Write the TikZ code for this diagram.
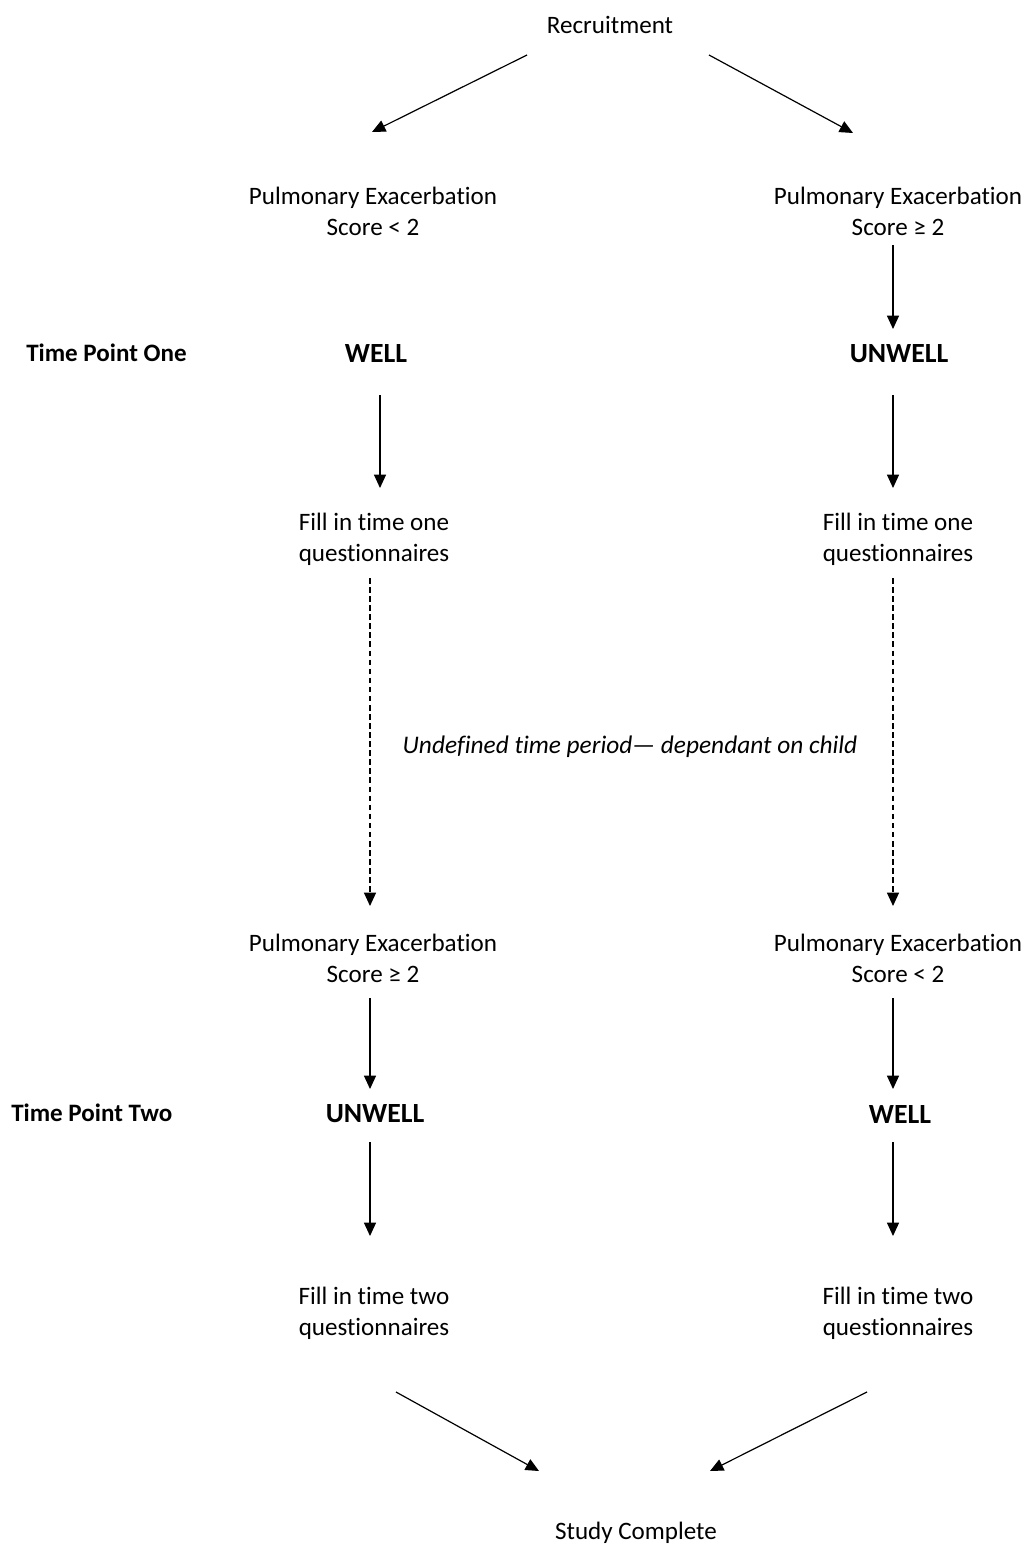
\documentclass[tikz,border=0pt]{standalone}
\usepackage{fontspec}
\setmainfont[Ligatures=NoCommon]{Carlito}
\usetikzlibrary{arrows.meta}
\begin{document}
\begin{tikzpicture}[x=0.75pt,y=-0.75pt,
  every node/.style={inner sep=0pt,align=center,font=\fontsize{18.8}{23.3}\selectfont},
  lbl/.style={font=\fontsize{18.8}{23.3}\selectfont\bfseries},
  state/.style={font=\fontsize{20.8}{25}\selectfont\bfseries},
  conn/.style={line width=0.9pt,-{Triangle[length=10pt,width=9pt]}},
  wait/.style={conn,dash pattern=on 4.2pt off 2.6pt}]
\useasboundingbox (0,0) rectangle (1027,1548);

% stages
\node (rec) at (610,25) {Recruitment};
\node (peA) at (373,211) {Pulmonary Exacerbation\\Score < 2};
\node (peB) at (898,211) {Pulmonary Exacerbation\\Score ≥ 2};
\node[lbl,anchor=west] (tp1) at (26,353) {Time Point One};
\node[state] (wellA) at (376,354) {WELL};
\node[state] (unwellB) at (899,354) {UNWELL};
\node (q1A) at (374,539) {Fill in time one\\questionnaires};
\node (q1B) at (898,539) {Fill in time one\\questionnaires};
\node[font=\fontsize{19}{23.3}\selectfont\itshape] (gap) at (630,747) {Undefined time period— dependant on child};
\node (pe2A) at (373,958) {Pulmonary Exacerbation\\Score ≥ 2};
\node (pe2B) at (898,958) {Pulmonary Exacerbation\\Score < 2};
\node[lbl,anchor=west] (tp2) at (11,1113) {Time Point Two};
\node[state] (unwellA) at (375,1114) {UNWELL};
\node[state] (wellB) at (900,1114) {WELL};
\node (q2A) at (374,1313) {Fill in time two\\questionnaires};
\node (q2B) at (898,1313) {Fill in time two\\questionnaires};
\node (done) at (636,1533) {Study Complete};

% connector end points
\coordinate (recL) at (527,55);   \coordinate (peAt) at (372,132);
\coordinate (recR) at (709,55);   \coordinate (peBt) at (853,133);
\coordinate (peBb) at (893,245);  \coordinate (unwellBt) at (893,329);
\coordinate (wellAb) at (380,395); \coordinate (q1At) at (380,488);
\coordinate (unwellBb) at (893,395); \coordinate (q1Bt) at (893,488);
\coordinate (q1Ab) at (370,578);  \coordinate (pe2At) at (370,906);
\coordinate (q1Bb) at (893,578);  \coordinate (pe2Bt) at (893,906);
\coordinate (pe2Ab) at (370,998); \coordinate (unwellAt) at (370,1089);
\coordinate (pe2Bb) at (893,998); \coordinate (wellBt) at (893,1089);
\coordinate (unwellAb) at (370,1142); \coordinate (q2At) at (370,1236);
\coordinate (wellBb) at (893,1142); \coordinate (q2Bt) at (893,1236);
\coordinate (q2Ab) at (396,1392); \coordinate (doneL) at (539,1471);
\coordinate (q2Bb) at (867,1392); \coordinate (doneR) at (710,1471);

% connectors
\draw[conn] (recL) -- (peAt);
\draw[conn] (recR) -- (peBt);
\draw[conn] (peBb) -- (unwellBt);
\draw[conn] (wellAb) -- (q1At);
\draw[conn] (unwellBb) -- (q1Bt);
\draw[wait] (q1Ab) -- (pe2At);
\draw[wait] (q1Bb) -- (pe2Bt);
\draw[conn] (pe2Ab) -- (unwellAt);
\draw[conn] (pe2Bb) -- (wellBt);
\draw[conn] (unwellAb) -- (q2At);
\draw[conn] (wellBb) -- (q2Bt);
\draw[conn] (q2Ab) -- (doneL);
\draw[conn] (q2Bb) -- (doneR);
\end{tikzpicture}
\end{document}
